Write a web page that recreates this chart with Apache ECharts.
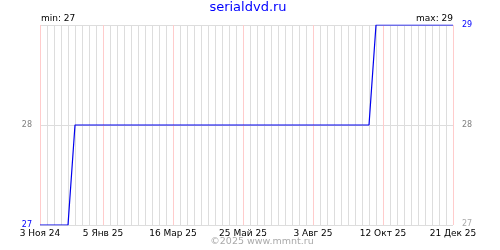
<!DOCTYPE html>
<html>
<head>
<meta charset="utf-8">
<script src="https://cdn.jsdelivr.net/npm/echarts@6/dist/echarts.min.js"></script>
<style>html,body{margin:0;padding:0;background:#fff}#c{width:500px;height:250px}</style>
</head>
<body>
<div id="c"></div>
<script>
var startDate = '2024-11-03';
var endDate = '2025-12-21';
var pointDates = ['2024-11-03', '2024-12-01', '2024-12-08', '2025-09-28', '2025-10-05', '2025-12-21'];
var pointValues = [27, 27, 28, 28, 29, 29];
var xTickDates = ['2024-11-03', '2025-01-05', '2025-03-16', '2025-05-25', '2025-08-03', '2025-10-12', '2025-12-21'];
var monthNames = ['Янв', 'Фев', 'Мар', 'Апр', 'Май', 'Июн', 'Июл', 'Авг', 'Сен', 'Окт', 'Ноя', 'Дек'];
var yTicks = [27, 28, 29];
var titleText = 'serialdvd.ru';
var footerText = '©2025 www.mmnt.ru';

var DAY = 86400000;
function ts(s) { return new Date(s + 'T00:00:00Z').getTime(); }
var t0 = ts(startDate);
function dayOf(s) { return Math.round((ts(s) - t0) / DAY); }
var maxDay = dayOf(endDate);
var tickDays = xTickDates.map(dayOf);
var seriesData = pointDates.map(function (d, i) { return [dayOf(d), pointValues[i]]; });
var minV = Math.min.apply(null, pointValues);
var maxV = Math.max.apply(null, pointValues);

function fmtDay(v) {
  var d = new Date(t0 + v * DAY);
  return d.getUTCDate() + ' ' + monthNames[d.getUTCMonth()] + ' ' + String(d.getUTCFullYear()).slice(2);
}

var chart = echarts.init(document.getElementById('c'), null, {renderer: 'canvas'});
var font = 'DejaVu Sans';
function txt(s, x, y, align, color, size) {
  return {type: 'text', x: x, y: y, silent: true, z: 10,
    style: {text: s, fill: color, font: size + 'px "' + font + '"', textAlign: align, textVerticalAlign: 'middle'}};
}
chart.setOption({
  animation: false,
  backgroundColor: '#fff',
  textStyle: {fontFamily: font},
  grid: {left: 40, right: 47, top: 25, bottom: 25, containLabel: false},
  graphic: [
    txt(titleText, 248, 7.5, 'center', '#0000ff', 13),
    txt(footerText, 262, 242, 'center', '#aaaaaa', 9.5),
    txt('min: ' + minV, 41, 19, 'left', '#000000', 9),
    txt('max: ' + maxV, 453, 19, 'right', '#000000', 9)
  ],
  xAxis: [
    {type: 'value', min: 0, max: maxDay, interval: 7, position: 'bottom',
     axisLine: {show: false}, axisTick: {show: false}, axisLabel: {show: false},
     splitLine: {show: true, lineStyle: {color: '#dddddd', width: 1}}},
    {type: 'value', min: 0, max: maxDay, position: 'bottom',
     axisLine: {show: false}, axisTick: {show: false, customValues: tickDays},
     axisLabel: {show: true, customValues: tickDays, formatter: fmtDay, color: '#000', fontSize: 9, fontFamily: font, margin: 4, hideOverlap: false},
     splitLine: {show: true, lineStyle: {color: '#ffcccc', width: 1}}}
  ],
  yAxis: [
    {type: 'value', min: yTicks[0], max: yTicks[yTicks.length - 1], interval: 1, position: 'left',
     axisLine: {show: false}, axisTick: {show: false},
     splitLine: {show: true, lineStyle: {color: '#dddddd', width: 1}},
     axisLabel: {margin: 8, fontSize: 8, fontFamily: font,
       formatter: function (v) { if (v === minV) return '{b|' + v + '}'; if (v === maxV) return ''; return '{g|' + v + '}'; },
       rich: {b: {color: '#0000ff', fontSize: 8, fontFamily: font}, g: {color: '#808080', fontSize: 8, fontFamily: font}}}},
    {type: 'value', min: yTicks[0], max: yTicks[yTicks.length - 1], interval: 1, position: 'right',
     axisLine: {show: false}, axisTick: {show: false}, splitLine: {show: false},
     axisLabel: {margin: 9, fontSize: 8, fontFamily: font,
       formatter: function (v) { if (v === maxV) return '{b|' + v + '}'; if (v === minV) return '{l|' + v + '}'; return '{g|' + v + '}'; },
       rich: {b: {color: '#0000ff', fontSize: 8, fontFamily: font}, g: {color: '#808080', fontSize: 8, fontFamily: font},
              l: {color: '#aaaaaa', fontSize: 8, fontFamily: font, padding: [0, 0, 3, 0]}}}}
  ],
  series: [
    {type: 'line', xAxisIndex: 0, yAxisIndex: 0, data: seriesData, symbol: 'none',
     lineStyle: {color: '#0000ee', width: 1.2}, z: 5}
  ]
});
</script>
</body>
</html>
